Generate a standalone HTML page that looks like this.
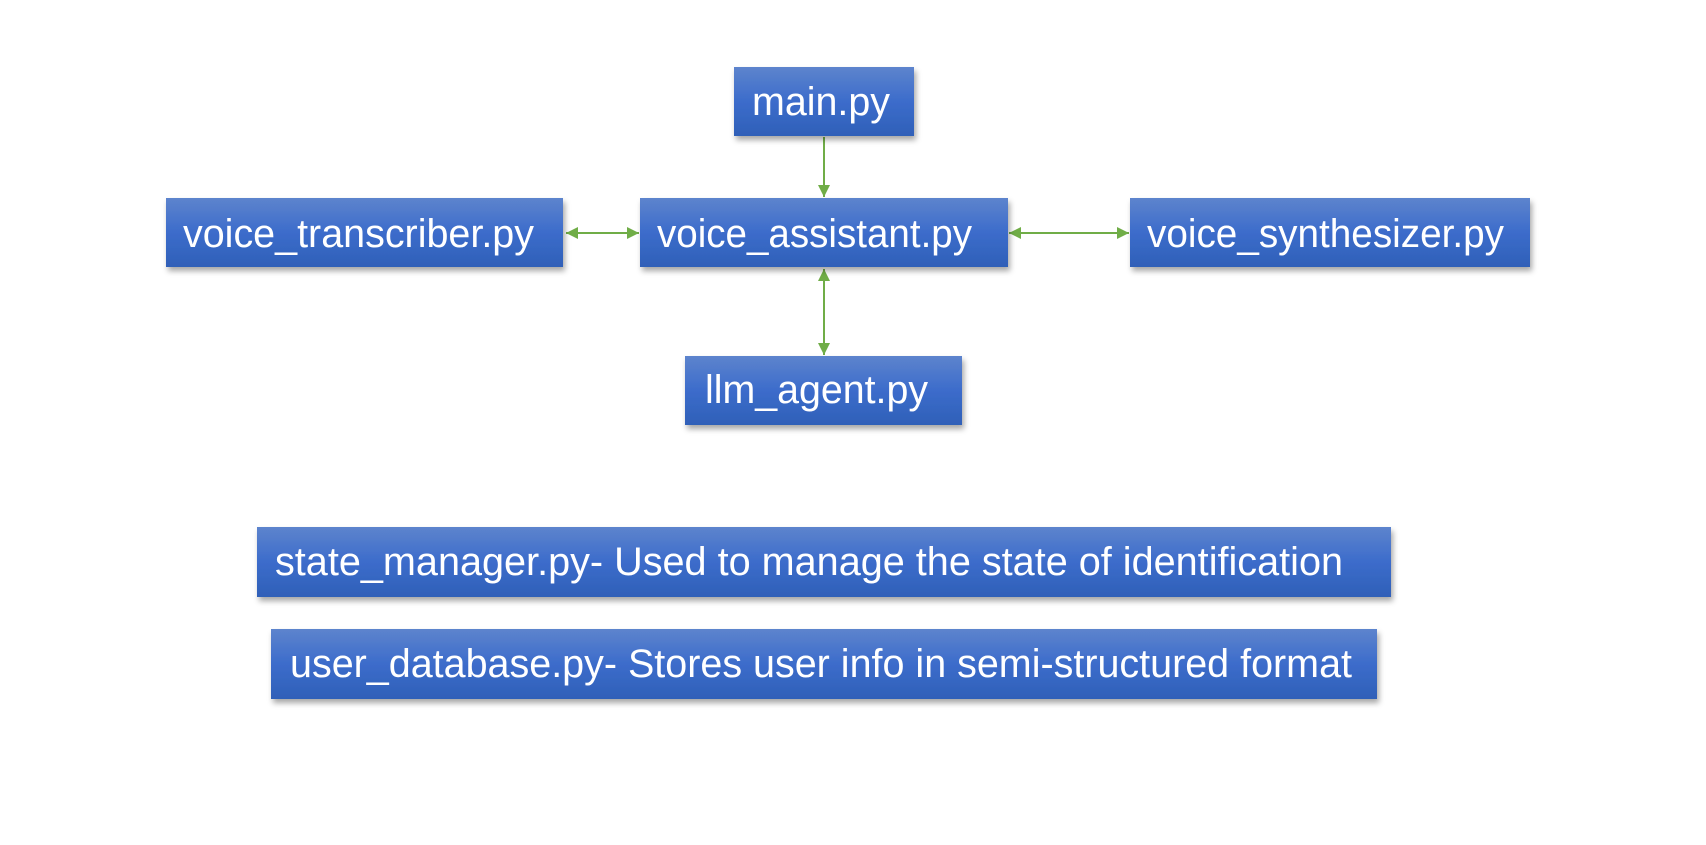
<!DOCTYPE html>
<html><head><meta charset="utf-8"><style>html,body{margin:0;padding:0;background:#fff;}svg{display:block}</style></head>
<body>
<svg width="1706" height="845" viewBox="0 0 1706 845" xmlns="http://www.w3.org/2000/svg">
<defs>
<linearGradient id="g" x1="0" y1="0" x2="0" y2="1">
<stop offset="0" stop-color="#5d84cd"/><stop offset="0.5" stop-color="#3c6ccb"/><stop offset="1" stop-color="#2f60b8"/>
</linearGradient>
<filter id="s" x="-10%" y="-20%" width="120%" height="150%"><feDropShadow dx="2" dy="4" stdDeviation="3" flood-color="#000" flood-opacity="0.35"/></filter>
<marker id="a" viewBox="0 0 10 10" refX="10" refY="5" markerWidth="6" markerHeight="6" orient="auto-start-reverse"><path d="M0,0L10,5L0,10z" fill="#70ad47"/></marker>
</defs>
<g stroke="#70ad47" stroke-width="2" fill="none">
<line x1="824" y1="137" x2="824" y2="197" marker-end="url(#a)"/>
<line x1="824" y1="269" x2="824" y2="355" marker-start="url(#a)" marker-end="url(#a)"/>
<line x1="566" y1="233" x2="639" y2="233" marker-start="url(#a)" marker-end="url(#a)"/>
<line x1="1009" y1="233" x2="1129" y2="233" marker-start="url(#a)" marker-end="url(#a)"/>
</g>
<g fill="url(#g)" filter="url(#s)">
<rect x="734" y="67" width="180" height="69"/>
<rect x="640" y="198" width="368" height="69"/>
<rect x="166" y="198" width="397" height="69"/>
<rect x="1130" y="198" width="400" height="69"/>
<rect x="685" y="356" width="277" height="69"/>
<rect x="257" y="527" width="1134" height="70"/>
<rect x="271" y="629" width="1106" height="70"/>
</g>
<g fill="#fff" font-family="'Liberation Sans', sans-serif" font-size="40">
<text x="752" y="115" textLength="138" lengthAdjust="spacingAndGlyphs">main.py</text>
<text x="657" y="247" textLength="315" lengthAdjust="spacingAndGlyphs">voice_assistant.py</text>
<text x="183" y="247" textLength="351" lengthAdjust="spacingAndGlyphs">voice_transcriber.py</text>
<text x="1147" y="247" textLength="357" lengthAdjust="spacingAndGlyphs">voice_synthesizer.py</text>
<text x="705" y="403" textLength="223" lengthAdjust="spacingAndGlyphs">llm_agent.py</text>
<text x="275" y="575" textLength="1068" lengthAdjust="spacingAndGlyphs">state_manager.py- Used to manage the state of identification</text>
<text x="290" y="677" textLength="1062" lengthAdjust="spacingAndGlyphs">user_database.py- Stores user info in semi-structured format</text>
</g>
</svg>
</body></html>
